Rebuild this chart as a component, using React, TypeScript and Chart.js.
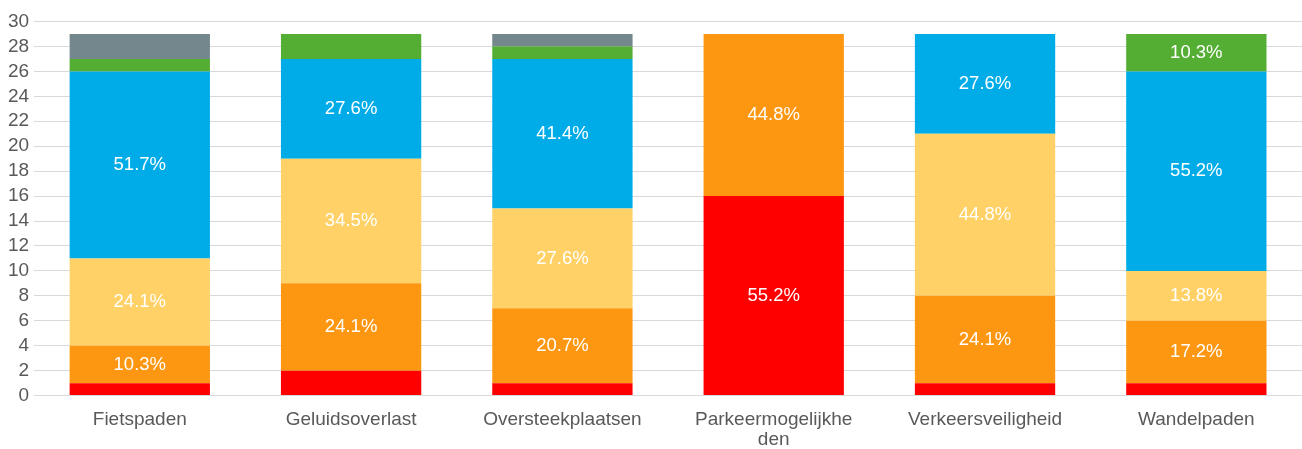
import React, { useEffect, useRef } from "react";
import { Chart, registerables } from "chart.js";

Chart.register(...registerables);

const categories: (string | string[])[] = [
  "Fietspaden",
  "Geluidsoverlast",
  "Oversteekplaatsen",
  ["Parkeermogelijkhe", "den"],
  "Verkeersveiligheid",
  "Wandelpaden",
];

const redValues = [1, 2, 1, 16, 1, 1];
const orangeValues = [3, 7, 6, 13, 7, 5];
const yellowValues = [7, 10, 8, 0, 13, 4];
const blueValues = [15, 8, 12, 0, 8, 16];
const greenValues = [1, 2, 1, 0, 0, 3];
const grayValues = [2, 0, 1, 0, 0, 0];

const FONT = "'Liberation Sans', Arial, sans-serif";

const labelPlugin = {
  id: "segLabels",
  afterDatasetsDraw(chart: any) {
    const ctx = chart.ctx;
    const n = chart.data.labels.length;
    const totals: number[] = [];
    for (let i = 0; i < n; i++) {
      let t = 0;
      chart.data.datasets.forEach((ds: any) => (t += ds.data[i] || 0));
      totals.push(t);
    }
    ctx.save();
    ctx.fillStyle = "#ffffff";
    ctx.font = `18.5px ${FONT}`;
    ctx.textAlign = "center";
    ctx.textBaseline = "middle";
    chart.data.datasets.forEach((ds: any, di: number) => {
      const meta = chart.getDatasetMeta(di);
      meta.data.forEach((bar: any, i: number) => {
        const v = ds.data[i];
        if (!v) return;
        const pct = (v / totals[i]) * 100;
        if (pct < 10) return;
        const y = (bar.y + bar.base) / 2;
        ctx.fillText(pct.toFixed(1) + "%", bar.x, y);
      });
    });
    ctx.restore();
  },
};

export default function App() {
  const ref = useRef<HTMLCanvasElement | null>(null);
  useEffect(() => {
    if (!ref.current) return;
    const mk = (label: string, data: number[], color: string) => ({
      label,
      data,
      backgroundColor: color,
      borderWidth: 0,
      categoryPercentage: 1,
      barPercentage: 0.664,
    });
    const chart = new Chart(ref.current, {
      type: "bar",
      data: {
        labels: categories,
        datasets: [
          mk("1", redValues, "#FF0000"),
          mk("2", orangeValues, "#FD9712"),
          mk("3", yellowValues, "#FFD166"),
          mk("4", blueValues, "#00ACE8"),
          mk("5", greenValues, "#53AE33"),
          mk("6", grayValues, "#74878C"),
        ],
      },
      options: {
        animation: false,
        responsive: true,
        maintainAspectRatio: false,
        layout: { padding: { top: 21.5, right: 0, bottom: -14.5, left: 3 } },
        plugins: { legend: { display: false }, tooltip: { enabled: false } },
        scales: {
          x: {
            stacked: true,
            grid: { display: false, drawTicks: false },
            border: { display: false },
            ticks: {
              color: "#595959",
              font: { family: FONT, size: 19, lineHeight: 1.05 },
              padding: 14,
              maxRotation: 0,
              autoSkip: false,
            },
          },
          y: {
            stacked: true,
            min: 0,
            max: 30,
            grid: { color: "#d9d9d9", lineWidth: 1, drawTicks: false },
            border: { display: false },
            ticks: {
              stepSize: 2,
              autoSkip: false,
              color: "#595959",
              font: { family: FONT, size: 19 },
              padding: 5,
            },
          },
        },
      },
      plugins: [labelPlugin],
    });
    return () => chart.destroy();
  }, []);
  return (
    <div style={{ position: "fixed", left: 0, top: 0, width: 1302, height: 449 }}>
      <canvas ref={ref} />
    </div>
  );
}
